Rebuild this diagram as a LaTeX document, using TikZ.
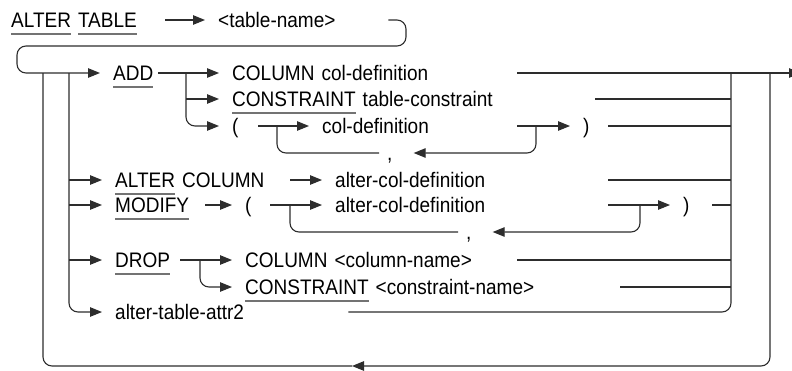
\documentclass[tikz,border=0pt]{standalone}
\usepackage{fontspec}
\setmainfont{Liberation Sans}[FakeStretch=0.905]
\usepackage{xcolor}
\usepackage{tikz}
\usetikzlibrary{
  arrows.meta,
  positioning
}
\definecolor{railgray}{RGB}{45,45,45}
\definecolor{ulgray}{RGB}{115,115,115}
\newcommand{\kw}[1]{\leavevmode\setbox0=\hbox{#1}\rlap{\color{ulgray}\rule[-7pt]{\wd0}{1.4pt}}\box0\relax}

\begin{document}
\begin{tikzpicture}[
  x=1pt, y=-1pt,
  every node/.style={font=\fontsize{21}{24}\selectfont},
  term/.style={anchor=west, inner sep=0pt, text height=15pt, text depth=0pt, align=left},
  commabox/.style={term, inner xsep=8pt},
  flow/.style={draw=railgray, line width=1.1pt},
  arr/.style={flow, -{Triangle[length=12pt, width=9.5pt]}},
  into/.style={arr, shorten >=13pt},
  curvy/.style={rounded corners=9pt}
]
  \useasboundingbox (0,0) rectangle (792,370);

  \node[term, text width=154pt] (altab) at (11,20) {\kw{ALTER} \kw{TABLE}};
  \node[term, text width=170pt] (tname) at (218,20) {<table-name>};
  \node[term, text width=45pt] (add) at (113,73) {\kw{ADD}};
  \node[term, text width=285pt] (col1) at (232,73) {COLUMN col-definition};
  \node[term, text width=363pt] (con1) at (232,99) {\kw{CONSTRAINT} table-constraint};
  \node[term, text width=26pt] (paren1) at (232,126) {(};
  \node[term, text width=195pt] (cdef) at (322,126) {col-definition};
  \node[term, text width=25pt] (close1) at (583,126) {)};
  \node[commabox] (comma1) at (379,153) {,};
  \node[term, text width=175pt] (altc) at (115,180) {\kw{ALTER} COLUMN};
  \node[term, text width=273pt] (acd1) at (335,180) {alter-col-definition};
  \node[term, text width=90pt] (modify) at (115,205) {\kw{MODIFY}};
  \node[term, text width=25pt] (paren2) at (245,205) {(};
  \node[term, text width=273pt] (acd2) at (335,205) {alter-col-definition};
  \node[term, text width=29pt] (close2) at (683,205) {)};
  \node[commabox] (comma2) at (458,232) {,};
  \node[term, text width=65pt] (drop) at (115,260) {\kw{DROP}};
  \node[term, text width=272pt] (colname) at (245,260) {COLUMN <column-name>};
  \node[term, text width=375pt] (conname) at (245,287) {\kw{CONSTRAINT} <constraint-name>};
  \node[term, text width=233pt] (attr) at (115,312) {alter-table-attr2};

  \coordinate (jL) at (43,73);
  \coordinate (jB) at (69,73);
  \coordinate (jA) at (186,73);
  \coordinate (jP1) at (277,126);
  \coordinate (jQ1) at (536,126);
  \coordinate (jP2) at (290,205);
  \coordinate (jQ2) at (640,205);
  \coordinate (jD) at (200,260);
  \coordinate (rc) at (731,73);
  \coordinate (ro) at (770,73);
  \coordinate (mk) at (352,366);
  \coordinate (exit) at (801,73);

  \draw[into] (altab.east) -- (tname.west);
  \draw[into, curvy] (tname.east) -- (406,20) -- (406,46) -- (17,46) -- (17,73) -- (add.west);

  \draw[into] (add.east) -- (col1.west);
  \draw[into] (jA |- con1.west) -- (con1.west);
  \draw[into, curvy] (jA) |- (paren1.west);
  \draw[arr] (col1.east) -- (exit);
  \draw[flow] (con1.east) -- (con1.east -| rc);
  \draw[into] (paren1.east) -- (cdef.west);
  \draw[into] (cdef.east) -- (close1.west);
  \draw[flow] (close1.east) -- (close1.east -| rc);
  \draw[into, curvy] (jQ1) |- (comma1.east);
  \draw[flow, curvy] (comma1.west) -| (jP1);

  \draw[into] (jB |- altc.west) -- (altc.west);
  \draw[into] (altc.east) -- (acd1.west);
  \draw[flow] (acd1.east) -- (acd1.east -| rc);

  \draw[into] (jB |- modify.west) -- (modify.west);
  \draw[into] (modify.east) -- (paren2.west);
  \draw[into] (paren2.east) -- (acd2.west);
  \draw[into] (acd2.east) -- (close2.west);
  \draw[flow] (close2.east) -- (close2.east -| rc);
  \draw[into, curvy] (jQ2) |- (comma2.east);
  \draw[flow, curvy] (comma2.west) -| (jP2);

  \draw[into] (jB |- drop.west) -- (drop.west);
  \draw[into] (drop.east) -- (colname.west);
  \draw[into, curvy] (jD) |- (conname.west);
  \draw[flow] (colname.east) -- (colname.east -| rc);
  \draw[flow] (conname.east) -- (conname.east -| rc);

  \draw[into, curvy] (jB) |- (attr.west);
  \draw[flow, curvy] (attr.east) -| (rc);

  \draw[arr, curvy] (ro) |- (mk);
  \draw[flow, curvy] (mk) -| (jL);
\end{tikzpicture}
\end{document}
